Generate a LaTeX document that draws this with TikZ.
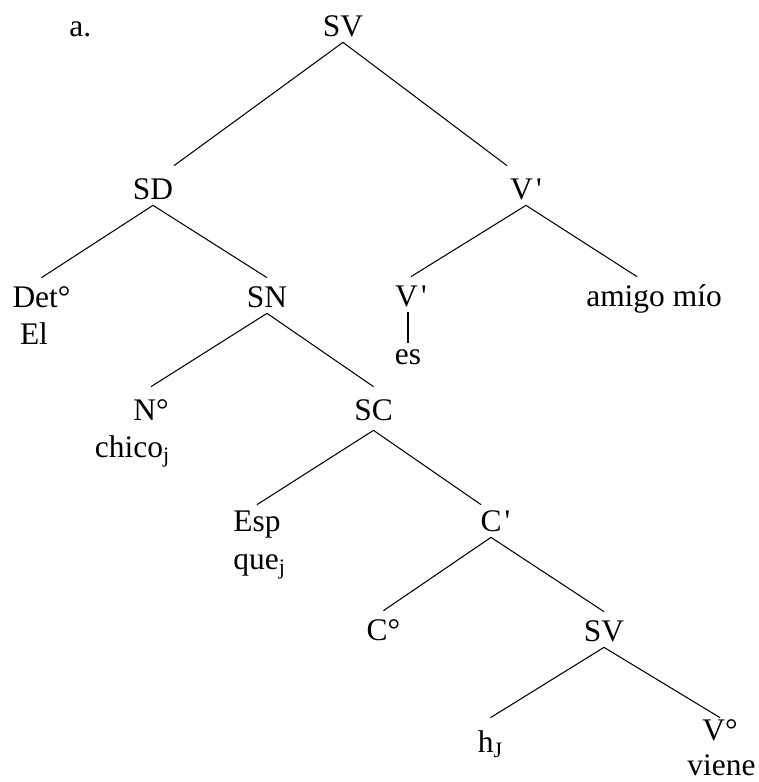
\documentclass[tikz,border=0pt]{standalone}
\usepackage{fontspec}
\setmainfont{Liberation Serif}
\begin{document}
\begin{tikzpicture}[
    cat/.style={inner sep=0pt, text height=0.6cm, text depth=0.1cm, anchor=base,
                font=\fontsize{17.9}{21}\selectfont},
    branch/.style={line width=0.6pt}
]
    \useasboundingbox (0,0) rectangle (15.18,15.64);

    %% Root
    \node[cat, anchor=base west] (label) at (1.38,14.90) {a.};
    \node[cat] (root) at (6.86,14.90) {SV};

    %% Subject
    \node[cat, text height=0.68cm] (sd) at (3.06,11.64) {SD};
    \node[cat] (det) at (0.83,9.48) {Det°};
    \node[cat] (el) at (0.68,8.74) {El};
    \node[cat] (sn) at (5.34,9.48) {SN};
    \node[cat, text height=0.68cm] (n) at (3.02,7.22) {N°};
    \node[cat] (chico) at (2.65,6.48) {chico\textsubscript{j}};

    %% Relative clause
    \node[cat, text height=0.68cm, text depth=0.18cm] (sc) at (7.47,7.22) {SC};
    \node[cat, text height=0.54cm] (esp) at (5.14,5.00) {Esp};
    \node[cat, anchor=base west] (que) at (4.66,4.24) {que\textsubscript{j}};
    \node[cat, text height=0.54cm] (cbar) at (9.91,5.00) {C\kern0.1em\textquotesingle};
    \node[cat] (c) at (7.67,2.82) {C°};
    \node[cat] (svlow) at (12.08,2.80) {SV};
    \node[cat, text height=0.70cm] (trace) at (9.81,0.58) {h\textsubscript{J}};
    \node[cat, text height=0.44cm] (v) at (14.40,0.84) {V°};
    \node[cat] (viene) at (14.43,0.13) {viene};

    %% Predicate
    \node[cat, text height=0.68cm] (vbar) at (10.52,11.64) {V\kern0.1em\textquotesingle};
    \node[cat] (vbarlow) at (8.22,9.50) {V\kern0.1em\textquotesingle};
    \node[cat, text height=0.44cm] (es) at (8.16,8.34) {es};
    \node[cat] (amigo) at (13.08,9.50) {amigo mío};

    %% Branches
    \draw[branch] (root.south) -- ([xshift=0.42cm]sd.north);
    \draw[branch] (root.south) -- ([xshift=-0.38cm]vbar.north);
    \draw[branch] (sd.south) -- (det.north);
    \draw[branch] (sd.south) -- (sn.north);
    \draw[branch] (sn.south) -- (n.north);
    \draw[branch] (sn.south) -- (sc.north);
    \draw[branch] (sc.south) -- (esp.north);
    \draw[branch] (sc.south) -- ([xshift=-0.29cm]cbar.north);
    \draw[branch] ([xshift=-0.09cm]cbar.south) -- (c.north);
    \draw[branch] ([xshift=-0.09cm]cbar.south) -- (svlow.north);
    \draw[branch] (svlow.south) -- (trace.north);
    \draw[branch] (svlow.south) -- (v.north);
    \draw[branch] (vbar.south) -- (vbarlow.north);
    \draw[branch] (vbar.south) -- ([xshift=-0.34cm]amigo.north);
    \draw[branch] ([xshift=-0.06cm]vbarlow.south) -- (es.north);

\end{tikzpicture}
\end{document}
